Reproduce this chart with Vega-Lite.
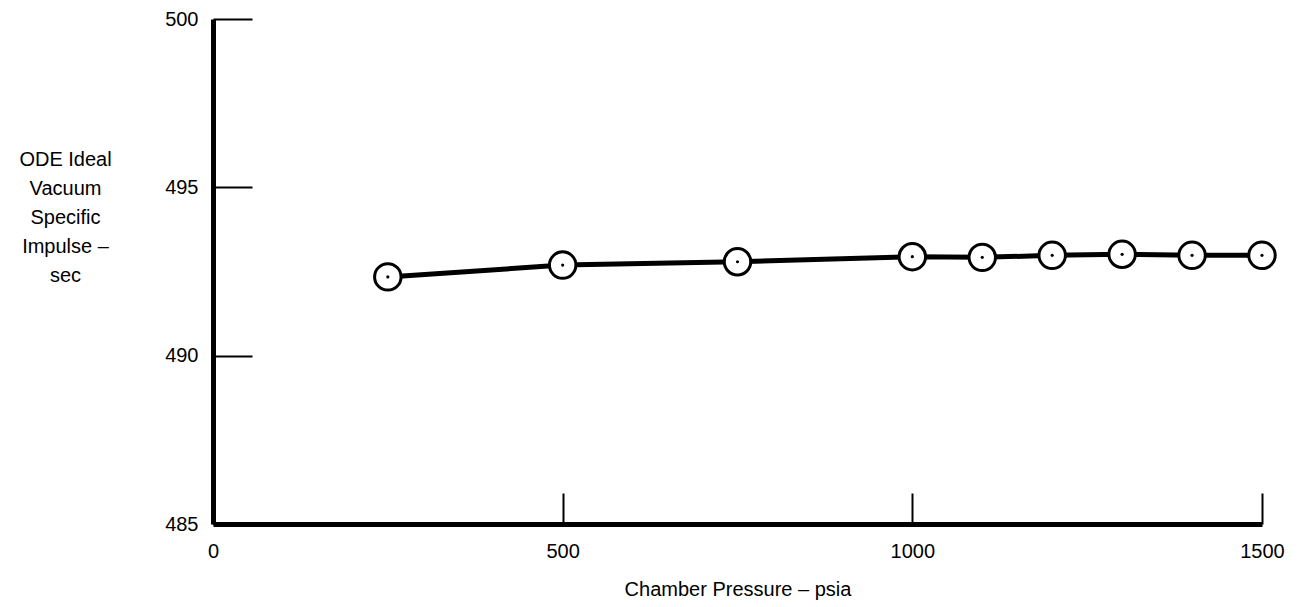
{
  "$schema": "https://vega.github.io/schema/vega-lite/v6.json",
  "width": 1049,
  "height": 505,
  "autosize": {"type": "none"},
  "padding": {"left": 213, "top": 19, "right": 39, "bottom": 83},
  "background": "white",
  "config": {
    "view": {"stroke": null},
    "font": "Liberation Sans",
    "axis": {
      "domainColor": "black",
      "domainWidth": 5,
      "tickColor": "black",
      "tickWidth": 2,
      "labelColor": "black",
      "titleColor": "black",
      "labelFont": "Liberation Sans",
      "titleFont": "Liberation Sans",
      "labelFontSize": 20,
      "titleFontSize": 20,
      "titleFontWeight": "normal",
      "grid": false
    }
  },
  "data": {
    "values": [
      {"p": 250, "isp": 492.34},
      {"p": 500, "isp": 492.69},
      {"p": 750, "isp": 492.79},
      {"p": 1000, "isp": 492.94},
      {"p": 1100, "isp": 492.92},
      {"p": 1200, "isp": 492.98},
      {"p": 1300, "isp": 493.01},
      {"p": 1400, "isp": 492.98},
      {"p": 1500, "isp": 492.98}
    ]
  },
  "encoding": {
    "x": {
      "field": "p",
      "type": "quantitative",
      "scale": {"domain": [0, 1500], "nice": false, "zero": false},
      "axis": {
        "values": [0, 500, 1000, 1500],
        "format": "d",
        "tickSize": -31,
        "labelPadding": 48,
        "labelFlush": false,
        "title": "Chamber Pressure – psia",
        "titlePadding": 18
      }
    },
    "y": {
      "field": "isp",
      "type": "quantitative",
      "scale": {"domain": [485, 500], "nice": false, "zero": false},
      "axis": {
        "values": [485, 490, 495, 500],
        "format": "d",
        "tickSize": -39,
        "labelPadding": 54,
        "labelFlush": false,
        "title": ["ODE Ideal", "Vacuum", "Specific", "Impulse –", "sec"],
        "titleAngle": 0,
        "titleAlign": "center",
        "titleBaseline": "top",
        "titleLineHeight": 29,
        "titleX": -148,
        "titleY": 130
      }
    }
  },
  "layer": [
    {"mark": {"type": "line", "color": "black", "strokeWidth": 5}},
    {"mark": {"type": "point", "shape": "circle", "filled": false, "fill": "white", "fillOpacity": 1, "stroke": "black", "strokeWidth": 3, "size": 700, "opacity": 1}},
    {"mark": {"type": "point", "shape": "circle", "filled": true, "color": "black", "size": 10, "opacity": 1}}
  ]
}
